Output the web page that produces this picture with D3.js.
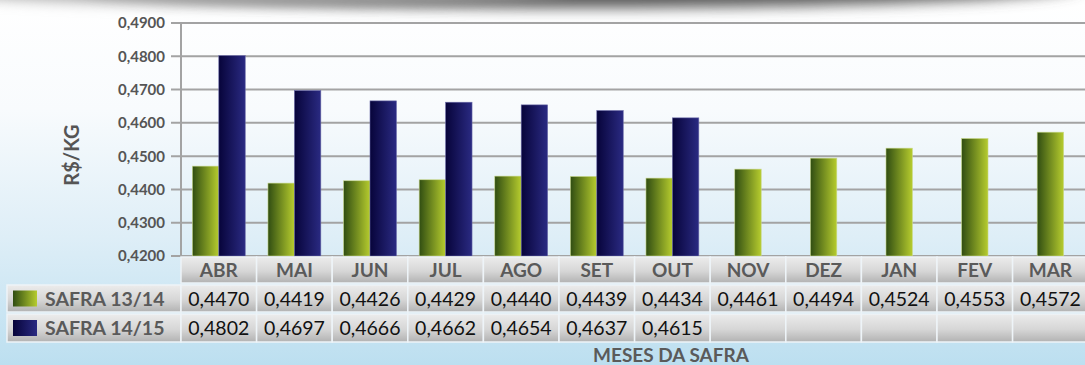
<!DOCTYPE html>
<html>
<head>
<meta charset="utf-8">
<script src="https://cdn.jsdelivr.net/npm/d3@7"></script>
<style>
  html, body { margin: 0; padding: 0; overflow: hidden; }
  svg { display: block; font-family: Lato, 'Open Sans', sans-serif; }
</style>
</head>
<body>
<svg id="chart" width="1085" height="365"></svg>
<script>
// data
const months = ['ABR', 'MAI', 'JUN', 'JUL', 'AGO', 'SET', 'OUT', 'NOV', 'DEZ', 'JAN', 'FEV', 'MAR'];
const safra1314 = [0.4470, 0.4419, 0.4426, 0.4429, 0.4440, 0.4439, 0.4434, 0.4461, 0.4494, 0.4524, 0.4553, 0.4572];
const safra1415 = [0.4802, 0.4697, 0.4666, 0.4662, 0.4654, 0.4637, 0.4615, null, null, null, null, null];
const seriesNames = ['SAFRA 13/14', 'SAFRA 14/15'];
const yTicks = [0.42, 0.43, 0.44, 0.45, 0.46, 0.47, 0.48, 0.49];

const svg = d3.select('#chart');
const W = 1085, H = 365;
const margin = { top: 23, left: 181, bottom: 256 };
const colW = 75.6;

const fmt = v => d3.format('.4f')(v).replace('.', ',');

// defs: background, bar gradients, cell gradient, shadow blur
const defs = svg.append('defs');

const bg = defs.append('linearGradient').attr('id', 'bg').attr('x1', 0).attr('y1', 0).attr('x2', 0).attr('y2', 1);
bg.append('stop').attr('offset', '0%').attr('stop-color', '#ffffff');
bg.append('stop').attr('offset', '30%').attr('stop-color', '#f8fbfd');
bg.append('stop').attr('offset', '65%').attr('stop-color', '#deeef7');
bg.append('stop').attr('offset', '100%').attr('stop-color', '#bcdff0');

function hGrad(id, c1, c2) {
	const g = defs.append('linearGradient').attr('id', id).attr('x1', 0).attr('y1', 0).attr('x2', 1).attr('y2', 0);
	g.append('stop').attr('offset', '0%').attr('stop-color', c1);
	g.append('stop').attr('offset', '100%').attr('stop-color', c2);
}
hGrad('green', '#304d12', '#b6cc2e');
hGrad('blue', '#07043a', '#2a2a82');

const cell = defs.append('linearGradient').attr('id', 'cell').attr('x1', 0).attr('y1', 0).attr('x2', 0).attr('y2', 1);
cell.append('stop').attr('offset', '0%').attr('stop-color', '#ececec');
cell.append('stop').attr('offset', '55%').attr('stop-color', '#d6d6d6');
cell.append('stop').attr('offset', '100%').attr('stop-color', '#b2b2b2');

defs.append('filter').attr('id', 'blur').attr('x', '-20%').attr('y', '-200%').attr('width', '140%').attr('height', '500%')
	.append('feGaussianBlur').attr('stdDeviation', 7);

svg.append('rect').attr('width', W).attr('height', H).attr('fill', 'url(#bg)');

// grey swoosh along the top edge
svg.append('ellipse')
	.attr('cx', 580).attr('cy', -14).attr('rx', 500).attr('ry', 22)
	.attr('fill', '#5a5a5a').attr('filter', 'url(#blur)');
svg.append('ellipse')
	.attr('cx', 250).attr('cy', -12).attr('rx', 320).attr('ry', 16)
	.attr('fill', '#a5a5a5').attr('filter', 'url(#blur)');

// scales
const x = d3.scaleBand().domain(months).range([margin.left, margin.left + colW * months.length]).padding(0);
const xs = d3.scaleBand().domain([0, 1]).range([0, x.bandwidth()]).paddingInner(0).paddingOuter(0.43);
const y = d3.scaleLinear().domain([0.42, 0.49]).range([margin.bottom, margin.top]);

// grid
svg.append('g').selectAll('line').data(yTicks).join('line')
	.attr('x1', margin.left - 10).attr('x2', W)
	.attr('y1', d => y(d)).attr('y2', d => y(d))
	.attr('stroke', '#a3a3a3').attr('stroke-width', 2);

svg.append('line')
	.attr('x1', margin.left).attr('x2', margin.left)
	.attr('y1', y(0.49)).attr('y2', y(0.42))
	.attr('stroke', '#a3a3a3').attr('stroke-width', 2);

// y labels
svg.append('g').selectAll('text').data(yTicks).join('text')
	.attr('x', 165).attr('y', d => y(d)).attr('dy', '0.36em')
	.attr('text-anchor', 'end')
	.attr('font-size', 15).attr('font-weight', 'bold').attr('fill', '#555')
	.text(d => fmt(d));

svg.append('text')
	.attr('transform', 'translate(79,155) rotate(-90)')
	.attr('text-anchor', 'middle')
	.attr('font-size', 20).attr('font-weight', 'bold').attr('fill', '#555')
	.text('R$/KG');

// bars
const bars = svg.append('g');
months.forEach((m, i) => {
	const a = safra1314[i], b = safra1415[i];
	const ax = b == null ? x(m) + (x.bandwidth() - xs.bandwidth()) / 2 : x(m) + xs(0);
	bars.append('rect')
		.attr('x', ax).attr('y', y(a)).attr('width', xs.bandwidth()).attr('height', y(0.42) - y(a))
		.attr('fill', 'url(#green)').attr('stroke', '#c9d98a').attr('stroke-width', 0.6);
	if (b != null) {
		bars.append('rect')
			.attr('x', x(m) + xs(1)).attr('y', y(b)).attr('width', xs.bandwidth()).attr('height', y(0.42) - y(b))
			.attr('fill', 'url(#blue)').attr('stroke', '#6a6aa8').attr('stroke-width', 0.6);
	}
});

// data table
const rowTop = [257, 285, 314];
const rowH = [26, 27, 28];
const table = svg.append('g');

// header row
table.selectAll('.hdr').data(months).join('rect')
	.attr('class', 'hdr')
	.attr('x', d => x(d)).attr('y', rowTop[0]).attr('width', colW).attr('height', rowH[0])
	.attr('fill', 'url(#cell)').attr('stroke', '#eef4f8').attr('stroke-width', 1.5);
table.selectAll('.hdrt').data(months).join('text')
	.attr('class', 'hdrt')
	.attr('x', d => x(d) + colW / 2).attr('y', rowTop[0] + rowH[0] / 2).attr('dy', '0.36em')
	.attr('text-anchor', 'middle')
	.attr('font-size', 19).attr('font-weight', 'bold').attr('fill', '#5a5a5a')
	.text(d => d);

const series = [safra1314, safra1415];
series.forEach((vals, s) => {
	const top = rowTop[s + 1], h = rowH[s + 1];
	table.append('rect')
		.attr('x', 7).attr('y', top).attr('width', 174).attr('height', h)
		.attr('fill', 'url(#cell)').attr('stroke', '#eef4f8').attr('stroke-width', 1.5);
	table.append('rect')
		.attr('x', 13).attr('y', top + (h - 16) / 2).attr('width', 24).attr('height', 16)
		.attr('fill', s === 0 ? 'url(#green)' : 'url(#blue)');
	table.append('text')
		.attr('x', 45).attr('y', top + h / 2).attr('dy', '0.36em')
		.attr('font-size', 19.5).attr('font-weight', 'bold').attr('fill', '#5a5a5a')
		.text(seriesNames[s]);

	table.append('g').selectAll('rect').data(months).join('rect')
		.attr('x', d => x(d)).attr('y', top).attr('width', colW).attr('height', h)
		.attr('fill', 'url(#cell)').attr('stroke', '#eef4f8').attr('stroke-width', 1.5);
	table.append('g').selectAll('text').data(months).join('text')
		.attr('x', d => x(d) + colW / 2).attr('y', top + h / 2).attr('dy', '0.36em')
		.attr('text-anchor', 'middle')
		.attr('font-size', 19.5).attr('fill', '#111')
		.text((d, i) => vals[i] == null ? '' : fmt(vals[i]));
});

svg.append('text')
	.attr('x', 671).attr('y', 362)
	.attr('text-anchor', 'middle')
	.attr('font-size', 19).attr('font-weight', 'bold').attr('fill', '#5a5a5a')
	.text('MESES DA SAFRA');
</script>
</body>
</html>
